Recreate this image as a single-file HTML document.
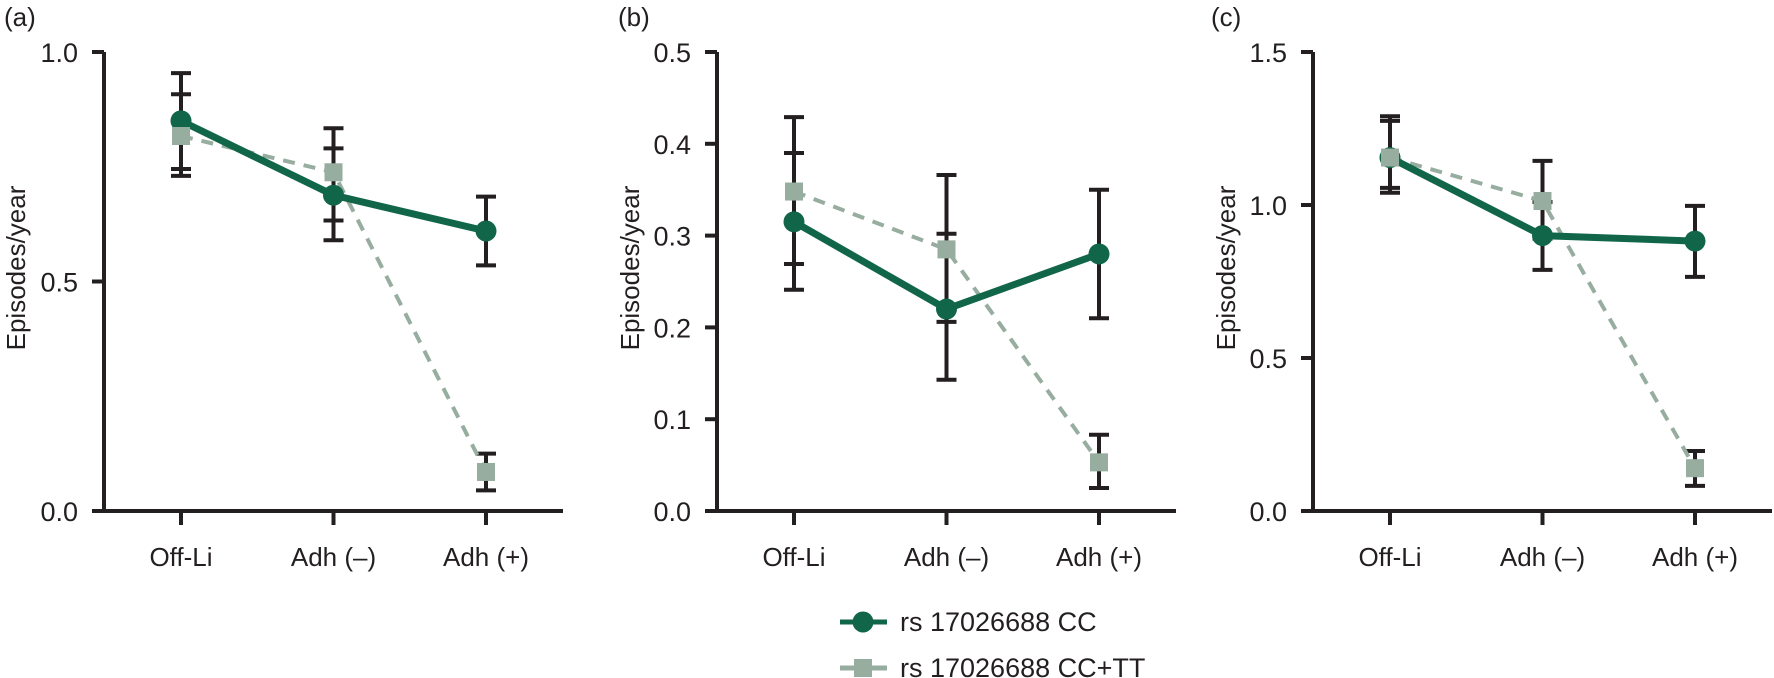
<!DOCTYPE html>
<html><head><meta charset="utf-8"><style>
html,body{margin:0;padding:0;background:#fff;}
svg{display:block;font-family:"Liberation Sans",sans-serif;}
</style></head><body>
<svg id="chart" width="1774" height="678" viewBox="0 0 1774 678" xmlns="http://www.w3.org/2000/svg"></svg>
<script>
const categories = ["Off-Li","Adh (\u2013)","Adh (+)"];
const panelLabels = ["(a)","(b)","(c)"];
const yMaxes = [1.0, 0.5, 1.5];
const yTicksA = ["0.0","0.5","1.0"];
const yTicksB = ["0.0","0.1","0.2","0.3","0.4","0.5"];
const yTicksC = ["0.0","0.5","1.0","1.5"];
// panel a
const ccA = [0.85, 0.688, 0.61];
const ccA_lo = [0.73, 0.59, 0.535];
const ccA_hi = [0.954, 0.79, 0.685];
const ttA = [0.817, 0.738, 0.085];
const ttA_lo = [0.745, 0.633, 0.045];
const ttA_hi = [0.908, 0.834, 0.125];
// panel b
const ccB = [0.315, 0.22, 0.28];
const ccB_lo = [0.241, 0.143, 0.21];
const ccB_hi = [0.39, 0.302, 0.35];
const ttB = [0.348, 0.285, 0.053];
const ttB_lo = [0.269, 0.206, 0.025];
const ttB_hi = [0.429, 0.366, 0.083];
// panel c
const ccC = [1.155, 0.90, 0.882];
const ccC_lo = [1.04, 0.788, 0.765];
const ccC_hi = [1.275, 1.01, 0.997];
const ttC = [1.155, 1.013, 0.14];
const ttC_lo = [1.056, 0.89, 0.082];
const ttC_hi = [1.29, 1.144, 0.196];

const NS="http://www.w3.org/2000/svg";
const svg=document.getElementById('chart');
const DARK="#116649", GRAY="#97ad9f", INK="#231f20";
function mk(tag,attrs,parent){const e=document.createElementNS(NS,tag);for(const k in attrs)e.setAttribute(k,attrs[k]);(parent||svg).appendChild(e);return e;}

const panels=[
 {ax:104, ticks:yTicksA, cc:ccA, ccl:ccA_lo, cch:ccA_hi, tt:ttA, ttl:ttA_lo, tth:ttA_hi, lx:4, tx:16},
 {ax:717, ticks:yTicksB, cc:ccB, ccl:ccB_lo, cch:ccB_hi, tt:ttB, ttl:ttB_lo, tth:ttB_hi, lx:618, tx:630},
 {ax:1313, ticks:yTicksC, cc:ccC, ccl:ccC_lo, cch:ccC_hi, tt:ttC, ttl:ttC_lo, tth:ttC_hi, lx:1211, tx:1226}
];
const Y0=511, YTOP=52;
panels.forEach((p,pi)=>{
  const g=mk('g',{});
  
  
  const ymax=yMaxes[pi];
  const yS=v=>Y0-(v/ymax)*(Y0-YTOP);
  const xS=i=>p.ax+77+i*152.5;
  const lbl=mk('text',{x:p.lx,y:26,'font-size':26,fill:INK},g); lbl.textContent=panelLabels[pi];
  
  
  const yt=mk('text',{x:p.tx,y:268,'font-size':26,fill:INK,'text-anchor':'middle',transform:`rotate(-90 ${p.tx} 268)`,dy:'0.35em'},g); yt.textContent="Episodes/year";
  
  
  const ya=mk('line',{x1:p.ax,y1:YTOP,x2:p.ax,y2:Y0+2,stroke:INK,'stroke-width':4},g);
  
  
  const xa=mk('line',{x1:p.ax-12,y1:Y0,x2:p.ax+459,y2:Y0,stroke:INK,'stroke-width':4},g);
  
  
  p.ticks.forEach(t=>{
    const y=yS(parseFloat(t));
    const tl=mk('line',{x1:p.ax-12,y1:y,x2:p.ax,y2:y,stroke:INK,'stroke-width':4},g);
    
    
    const tx=mk('text',{x:p.ax-26,y:y+10,'font-size':27,fill:INK,'text-anchor':'end'},g); tx.textContent=t;
    
    
  });
  categories.forEach((c,i)=>{
    const x=xS(i);
    const tl=mk('line',{x1:x,y1:Y0,x2:x,y2:Y0+14,stroke:INK,'stroke-width':4},g);
    
    
    const tx=mk('text',{x:x,y:566,'font-size':26,fill:INK,'text-anchor':'middle'},g); tx.textContent=c;
    
    
  });
  // error bars
  function errs(lo,hi,name){
    lo.forEach((l,i)=>{
      const x=xS(i),y1=yS(l),y2=yS(hi[i]);
      const e=mk('path',{d:`M${x},${y1}V${y2}M${x-10},${y1}H${x+10}M${x-10},${y2}H${x+10}`,stroke:INK,'stroke-width':4,fill:'none'},g);
      
      
    });
  }
  errs(p.ccl,p.cch,'error-bar-cc');
  errs(p.ttl,p.tth,'error-bar-cctt');
  const ttLine=mk('polyline',{points:p.tt.map((v,i)=>xS(i)+','+yS(v)).join(' '),stroke:GRAY,'stroke-width':4,'stroke-dasharray':'12 9',fill:'none'},g);
  
  
  const ccLine=mk('polyline',{points:p.cc.map((v,i)=>xS(i)+','+yS(v)).join(' '),stroke:DARK,'stroke-width':7,fill:'none'},g);
  
  
  p.cc.forEach((v,i)=>{
    const c=mk('circle',{cx:xS(i),cy:yS(v),r:10.5,fill:DARK},g);
    
    
  });
  p.tt.forEach((v,i)=>{
    const r=mk('rect',{x:xS(i)-9,y:yS(v)-9,width:18,height:18,fill:GRAY},g);
    
    
  });
});
// legend
const lg=mk('g',{});


const e1=mk('g',{},lg);


mk('line',{x1:840,y1:622,x2:887,y2:622,stroke:DARK,'stroke-width':5},e1);
mk('circle',{cx:863,cy:622,r:10.5,fill:DARK},e1);
const t1=mk('text',{x:900,y:631,'font-size':27,fill:INK},e1); t1.textContent="rs 17026688 CC";
const e2=mk('g',{},lg);


mk('line',{x1:840,y1:668,x2:887,y2:668,stroke:GRAY,'stroke-width':5},e2);
mk('rect',{x:854,y:659,width:18,height:18,fill:GRAY},e2);
const t2=mk('text',{x:900,y:677,'font-size':27,fill:INK},e2); t2.textContent="rs 17026688 CC+TT";
</script>
</body></html>
